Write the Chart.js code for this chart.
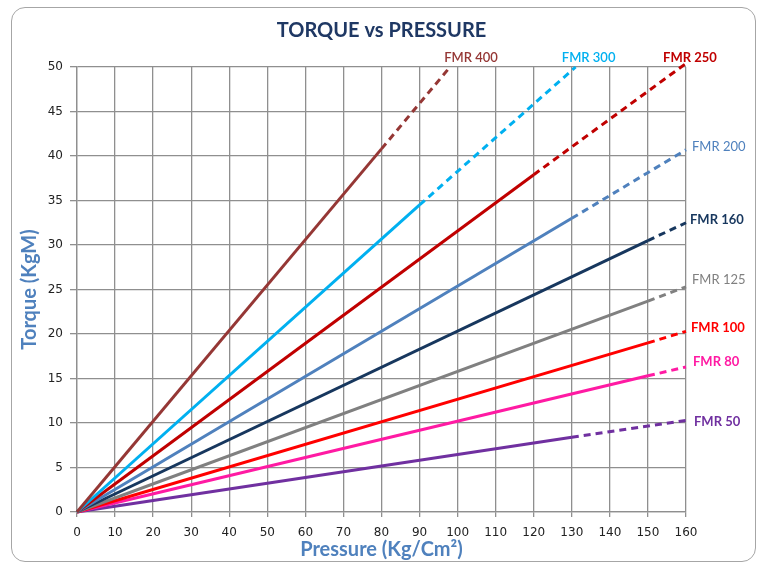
<!DOCTYPE html>
<html>
<head>
<meta charset="utf-8">
<script src="https://cdn.jsdelivr.net/npm/chart.js@4"></script>
<style>
  html, body { margin: 0; padding: 0; background: #fff; }
  #wrap { position: relative; width: 760px; height: 564px; }
  #frame { position: absolute; left: 11px; top: 7px; width: 743px; height: 553px; border: 1px solid #a6a6a6; border-radius: 14px; }
  canvas { position: absolute; left: 0; top: 0; }
</style>
</head>
<body>
<div id="wrap">
  <div id="frame"></div>
  <canvas id="c" width="760" height="564"></canvas>
</div>
<script>
// Series names
const seriesNames = ['FMR 400', 'FMR 300', 'FMR 250', 'FMR 200', 'FMR 160', 'FMR 125', 'FMR 100', 'FMR 80', 'FMR 50'];
// End of solid part (pressure, torque)
const solidPressure = [80, 90, 120, 130, 150, 150, 150, 150, 130];
const solidTorque   = [40.8, 34.5, 37.9, 33.0, 30.5, 23.7, 19.0, 15.3, 8.4];
// End of dashed (extrapolated) part
const endPressure = [98, 131, 160, 160, 160, 160, 160, 160, 160];
const endTorque   = [50, 50, 50.4, 40.7, 32.5, 25.3, 20.3, 16.3, 10.3];
// Axis ticks
const xTicks = [0, 10, 20, 30, 40, 50, 60, 70, 80, 90, 100, 110, 120, 130, 140, 150, 160];
const yTicks = [0, 5, 10, 15, 20, 25, 30, 35, 40, 45, 50];

const colors = ['#953735', '#00B0F0', '#C00000', '#4F81BD', '#17375E', '#808080', '#FF0000', '#FF1AA3', '#7030A0'];
const labelWeights = ['600', '600', 'bold', 'normal', 'bold', 'normal', 'bold', 'bold', 'bold'];
const labelMode = ['top', 'top', 'top', 'right', 'right', 'right', 'right', 'right', 'right'];
const labelDx = [21, 13, 4, 6, 4, 6, 5, 7, 8];
const labelDy = [0, 0, 0, -3, -3, -7, -4, -5, 1];

const datasets = seriesNames.map((name, i) => ({
  label: name,
  data: [{x: 0, y: 0}, {x: solidPressure[i], y: solidTorque[i]}, {x: endPressure[i], y: endTorque[i]}],
  borderColor: colors[i],
  backgroundColor: colors[i],
  borderWidth: 3,
  pointRadius: 0,
  tension: 0,
  fill: false,
  clip: 4,
  segment: {
    borderDash: ctx => ctx.p0DataIndex >= 1 ? [7, 5] : undefined
  }
}));

const endLabels = {
  id: 'endLabels',
  afterDatasetsDraw(chart) {
    const ctx = chart.ctx;
    const xs = chart.scales.x, ys = chart.scales.y;
    ctx.save();
    seriesNames.forEach((name, i) => {
      const px = xs.getPixelForValue(endPressure[i]);
      const py = ys.getPixelForValue(endTorque[i]);
      ctx.fillStyle = colors[i];
      ctx.font = labelWeights[i] + ' 13px Lato';
      ctx.textBaseline = 'middle';
      if (labelMode[i] === 'top') {
        ctx.textAlign = 'center';
        ctx.fillText(name, px + labelDx[i], ys.getPixelForValue(50) - 9);
      } else {
        ctx.textAlign = 'left';
        ctx.fillText(name, px + labelDx[i], py + labelDy[i]);
      }
    });
    ctx.restore();
  }
};

const gridColor = '#8f8f8f';
const tickFont = {family: 'DejaVu Sans', size: 12};

new Chart(document.getElementById('c'), {
  type: 'line',
  data: { datasets },
  plugins: [endLabels],
  options: {
    responsive: false,
    animation: false,
    devicePixelRatio: 1,
    layout: { padding: { left: 10, right: 74, top: 14, bottom: 0 } },
    plugins: {
      legend: { display: false },
      tooltip: { enabled: false },
      title: {
        display: true,
        fullSize: false,
        text: 'TORQUE vs PRESSURE',
        color: '#1F3864',
        font: { family: 'Lato', size: 20, weight: 'bold' },
        padding: { top: 5, bottom: 24 }
      }
    },
    scales: {
      x: {
        type: 'linear',
        min: 0, max: 160,
        afterBuildTicks: s => { s.ticks = xTicks.map(v => ({value: v})); },
        ticks: { color: '#222', font: tickFont, padding: 9, maxRotation: 0 },
        grid: { color: gridColor, lineWidth: 1.3, tickLength: 5 },
        border: { color: gridColor, width: 1.3 },
        title: {
          display: true,
          text: 'Pressure (Kg/Cm²)',
          color: '#4F81BD',
          font: { family: 'Lato', size: 20, weight: 'bold' },
          padding: { top: 0, bottom: 2 }
        },
        afterFit: s => { s.height = 52; }
      },
      y: {
        type: 'linear',
        min: 0, max: 50,
        afterBuildTicks: s => { s.ticks = yTicks.map(v => ({value: v})); },
        ticks: { color: '#222', font: tickFont, padding: 7 },
        grid: { color: gridColor, lineWidth: 1.3, tickLength: 7 },
        border: { color: gridColor, width: 1.3 },
        title: {
          display: true,
          text: 'Torque (KgM)',
          color: '#4F81BD',
          font: { family: 'Lato', size: 20, weight: 'bold' },
          padding: { top: 8, bottom: 0 }
        },
        afterFit: s => { s.width = 67; }
      }
    }
  }
});
</script>
</body>
</html>
